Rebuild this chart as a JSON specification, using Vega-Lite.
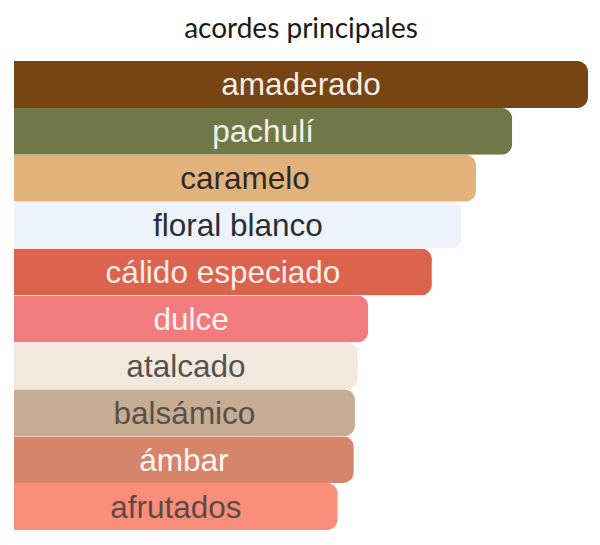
{
  "$schema": "https://vega.github.io/schema/vega-lite/v6.json",
  "width": 574,
  "height": 469,
  "autosize": {"type": "none"},
  "padding": {"left": 14, "top": 61, "right": 12, "bottom": 15},
  "background": "white",
  "title": {
    "text": "acordes principales",
    "font": "Lato",
    "fontSize": 28,
    "fontWeight": "normal",
    "color": "#1a1a1a",
    "anchor": "middle",
    "baseline": "alphabetic",
    "offset": 23,
    "dy": 28
  },
  "data": {
    "values": [
      {"acorde": "amaderado", "valor": 100},
      {"acorde": "pachulí", "valor": 86.8},
      {"acorde": "caramelo", "valor": 80.5},
      {"acorde": "floral blanco", "valor": 78},
      {"acorde": "cálido especiado", "valor": 72.8},
      {"acorde": "dulce", "valor": 61.7},
      {"acorde": "atalcado", "valor": 59.9},
      {"acorde": "balsámico", "valor": 59.4},
      {"acorde": "ámbar", "valor": 59.2},
      {"acorde": "afrutados", "valor": 56.4}
    ]
  },
  "transform": [{"calculate": "datum.valor / 2", "as": "centro"}],
  "encoding": {
    "y": {
      "field": "acorde",
      "type": "nominal",
      "sort": null,
      "axis": null,
      "scale": {"paddingInner": 0, "paddingOuter": 0}
    }
  },
  "layer": [
    {
      "mark": {"type": "bar", "cornerRadiusEnd": 11},
      "encoding": {
        "x": {"field": "valor", "type": "quantitative", "axis": null, "scale": {"domain": [0, 100], "nice": false}},
        "color": {
          "field": "acorde",
          "type": "nominal",
          "legend": null,
          "scale": {
            "domain": ["amaderado", "pachulí", "caramelo", "floral blanco", "cálido especiado", "dulce", "atalcado", "balsámico", "ámbar", "afrutados"],
            "range": ["#774414", "#707848", "#e3b27a", "#eef2fb", "#dc634d", "#f27b7d", "#f2e8de", "#c6ac92", "#d6856a", "#fa8e7a"]
          }
        }
      }
    },
    {
      "mark": {"type": "text", "font": "Liberation Sans", "fontSize": 31.5, "align": "center", "baseline": "middle", "dy": 2},
      "encoding": {
        "x": {"field": "centro", "type": "quantitative", "axis": null, "scale": {"domain": [0, 100], "nice": false}},
        "text": {"field": "acorde"},
        "color": {
          "field": "acorde",
          "type": "nominal",
          "legend": null,
          "scale": {
            "domain": ["amaderado", "pachulí", "caramelo", "floral blanco", "cálido especiado", "dulce", "atalcado", "balsámico", "ámbar", "afrutados"],
            "range": ["#f6eee6", "#f2f2ea", "#2e2a26", "#2a2e36", "#fbeee8", "#fff3f2", "#555250", "#58504a", "#fff6f0", "#5a4a46"]
          }
        }
      }
    }
  ],
  "resolve": {"scale": {"color": "independent"}},
  "config": {"view": {"stroke": null}}
}
